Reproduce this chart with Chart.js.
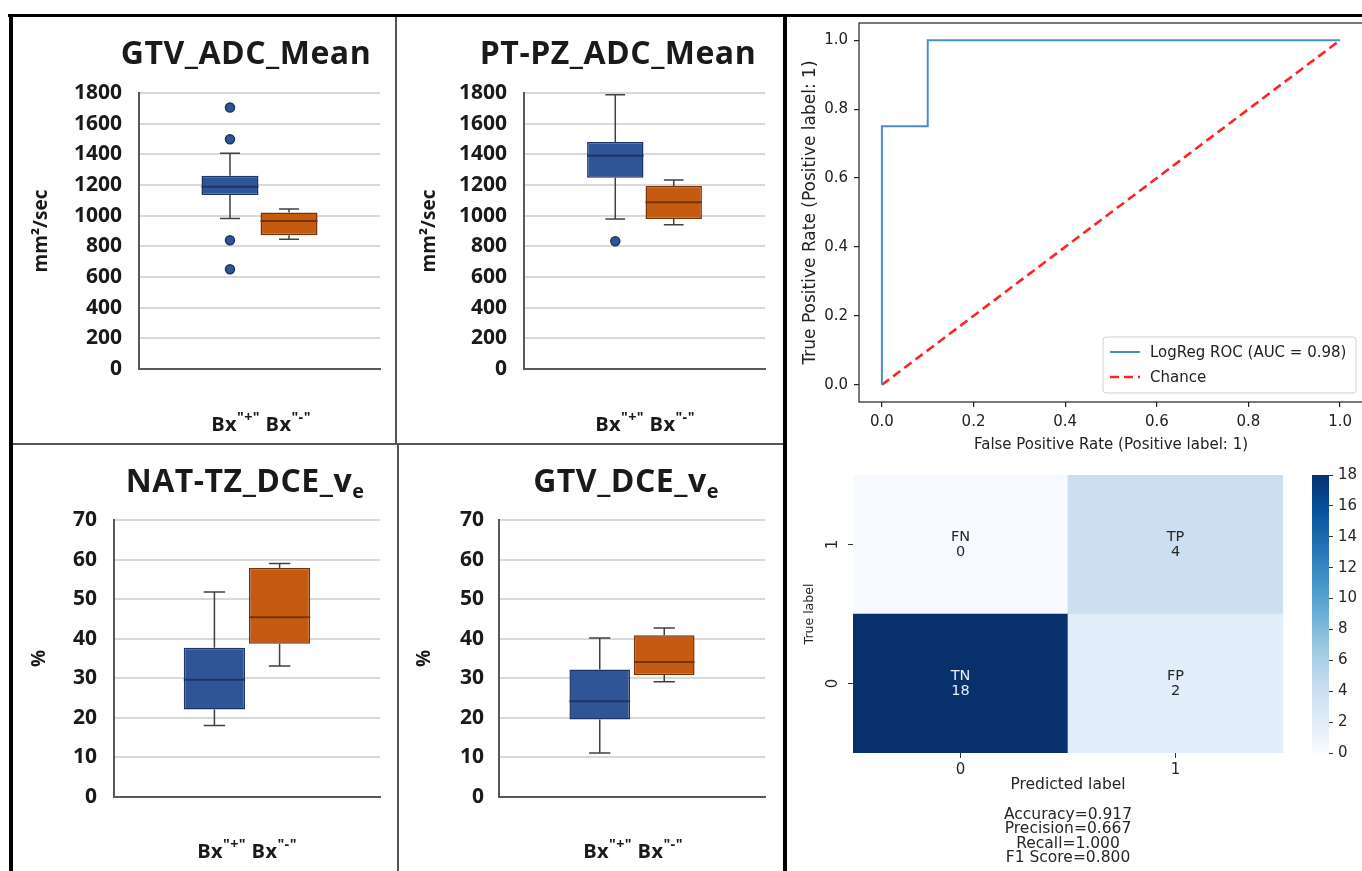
<!DOCTYPE html>
<html lang="en">
<head>
<meta charset="UTF-8">
<title>ADC / DCE box plots, ROC curve and confusion matrix</title>
<script src="https://cdn.jsdelivr.net/npm/chart.js"></script>
<style>
  html, body { margin: 0; padding: 0; width: 1362px; height: 871px; overflow: hidden; background: #fff; }
  canvas { position: absolute; }
  .rule { position: absolute; z-index: 5; }
  .ttl { position: absolute; width: 400px; text-align: center; font: 700 32px 'Open Sans', sans-serif;
         letter-spacing: 0.5px; color: #1a1a1a; line-height: 36px; white-space: nowrap; }
  .ttl sub { font-size: 0.62em; vertical-align: -0.3em; }
  .xl { position: absolute; width: 200px; text-align: center; font: 700 20px 'Open Sans', sans-serif;
        letter-spacing: 0.4px; color: #1a1a1a; line-height: 24px; white-space: nowrap; }
  .xl sup { font-size: 0.72em; vertical-align: 0.6em; }
</style>
</head>
<body>
  <!-- box plot panels -->
  <canvas id="gtvAdc" width="372" height="370" style="left:14px;top:70px"></canvas>
  <canvas id="ptpzAdc" width="373" height="370" style="left:398px;top:70px"></canvas>
  <canvas id="nattzVe" width="372" height="371" style="left:14px;top:497px"></canvas>
  <canvas id="gtvVe" width="371" height="371" style="left:400px;top:497px"></canvas>
  <!-- right column -->
  <canvas id="roc" width="581" height="443" style="left:787px;top:17px"></canvas>
  <canvas id="cm" width="511" height="409" style="left:789px;top:462px"></canvas>
  <canvas id="cbar" width="62" height="409" style="left:1300px;top:462px"></canvas>

  <div class="ttl" style="left:46px;top:34px">GTV_ADC_Mean</div>
  <div class="ttl" style="left:418px;top:34px">PT-PZ_ADC_Mean</div>
  <div class="ttl" style="left:45px;top:462px">NAT-TZ_DCE_v<sub>e</sub></div>
  <div class="ttl" style="left:426px;top:462px">GTV_DCE_v<sub>e</sub></div>

  <div class="xl" style="left:161px;top:405px">Bx<sup>"+"</sup> Bx<sup>"-"</sup></div>
  <div class="xl" style="left:545px;top:405px">Bx<sup>"+"</sup> Bx<sup>"-"</sup></div>
  <div class="xl" style="left:147px;top:832px">Bx<sup>"+"</sup> Bx<sup>"-"</sup></div>
  <div class="xl" style="left:533px;top:832px">Bx<sup>"+"</sup> Bx<sup>"-"</sup></div>

  <!-- panel frame -->
  <div class="rule" style="left:8px;top:14px;width:1354px;height:3px;background:#000"></div>
  <div class="rule" style="left:9px;top:14px;width:4px;height:857px;background:#000"></div>
  <div class="rule" style="left:783px;top:14px;width:4px;height:857px;background:#000"></div>
  <div class="rule" style="left:13px;top:443px;width:770px;height:2px;background:#555"></div>
  <div class="rule" style="left:395px;top:17px;width:2px;height:426px;background:#555"></div>
  <div class="rule" style="left:397px;top:445px;width:2px;height:426px;background:#555"></div>

<script>
// box plot stats: [lower whisker, Q1, median, Q3, upper whisker]
const gtvAdcPos = [982, 1134, 1188, 1260, 1407];
const gtvAdcPosOut = [1706, 1498, 840, 650];
const gtvAdcNeg = [846, 872, 965, 1021, 1043];
const gtvAdcNegOut = [];

const ptpzAdcPos = [978, 1247, 1390, 1481, 1789];
const ptpzAdcPosOut = [833];
const ptpzAdcNeg = [941, 978, 1087, 1193, 1232];
const ptpzAdcNegOut = [];

const nattzVePos = [18.1, 22.1, 29.6, 37.7, 51.8];
const nattzVeNeg = [33.1, 38.7, 45.4, 57.9, 59.0];

const gtvVePos = [11.1, 19.6, 24.2, 32.2, 40.2];
const gtvVeNeg = [29.1, 30.8, 34.1, 40.9, 42.7];

// ROC
const rocFpr = [0, 0, 0.1, 0.1, 1];
const rocTpr = [0, 0.75, 0.75, 1, 1];
const chanceX = [0, 1];
const chanceY = [0, 1];
const rocTicks = [0, 0.2, 0.4, 0.6, 0.8, 1.0];

// confusion matrix (rows = true label)
const cmLabels = ['0', '1'];
const cmRow0 = [18, 2];
const cmRow1 = [0, 4];
const cmTags0 = ['TN', 'FP'];
const cmTags1 = ['FN', 'TP'];
const cmStats = ['Accuracy=0.917', 'Precision=0.667', 'Recall=1.000', 'F1 Score=0.800'];
const cbTicks = [0, 2, 4, 6, 8, 10, 12, 14, 16, 18];
const cbMax = 18;

const BLUE = '#2f5597', BLUE_EDGE = '#1c3563';
const ORANGE = '#c55a11', ORANGE_EDGE = '#74340a';
const INK = '#1a1a1a';
const MPL = "'DejaVu Sans', sans-serif";

// matplotlib "Blues"
const BLUES = [[0, '#f7fbff'], [0.125, '#deebf7'], [0.25, '#c6dbef'], [0.375, '#9ecae1'], [0.5, '#6baed6'],
               [0.625, '#4292c6'], [0.75, '#2171b5'], [0.875, '#08519c'], [1, '#08306b']];
function hex(c) { return [1, 3, 5].map(i => parseInt(c.substr(i, 2), 16)); }
function blues(v) {
  const t = Math.max(0, Math.min(1, v / cbMax));
  for (let i = 1; i < BLUES.length; i++) {
    if (t <= BLUES[i][0]) {
      const [t0, c0] = BLUES[i - 1], [t1, c1] = BLUES[i];
      const f = (t - t0) / (t1 - t0), a = hex(c0), b = hex(c1);
      return 'rgb(' + a.map((x, k) => Math.round(x + (b[k] - x) * f)).join(',') + ')';
    }
  }
  return BLUES[BLUES.length - 1][1];
}

// fixed axis size, and no extra room for labels that overhang the plot
function fixY(w) { return s => { s.width = w; s.paddingTop = 0; s.paddingBottom = 0; }; }
function fixX(h) { return s => { s.height = h; s.paddingLeft = 0; s.paddingRight = 0; }; }

// whiskers, medians and outliers on top of the floating Q1-Q3 bars
const boxPlugin = {
  id: 'boxWhiskers',
  beforeDatasetsDraw(chart) {
    const ctx = chart.ctx, y = chart.scales.y;
    chart.data.datasets.forEach((ds, i) => {
      const bar = chart.getDatasetMeta(i).data[0];
      const [lo, q1, , q3, hi] = ds.stats;
      const cap = bar.width * 0.35;
      ctx.save();
      ctx.strokeStyle = '#404040';
      ctx.lineWidth = 1.5;
      ctx.beginPath();
      ctx.moveTo(bar.x, y.getPixelForValue(hi)); ctx.lineTo(bar.x, y.getPixelForValue(q3));
      ctx.moveTo(bar.x, y.getPixelForValue(q1)); ctx.lineTo(bar.x, y.getPixelForValue(lo));
      ctx.moveTo(bar.x - cap / 2, y.getPixelForValue(hi)); ctx.lineTo(bar.x + cap / 2, y.getPixelForValue(hi));
      ctx.moveTo(bar.x - cap / 2, y.getPixelForValue(lo)); ctx.lineTo(bar.x + cap / 2, y.getPixelForValue(lo));
      ctx.stroke();
      ctx.restore();
    });
  },
  afterDatasetsDraw(chart) {
    const ctx = chart.ctx, y = chart.scales.y;
    chart.data.datasets.forEach((ds, i) => {
      const bar = chart.getDatasetMeta(i).data[0];
      const my = y.getPixelForValue(ds.stats[2]);
      ctx.save();
      ctx.strokeStyle = ds.borderColor;
      ctx.lineWidth = 2;
      ctx.beginPath();
      ctx.moveTo(bar.x - bar.width / 2, my); ctx.lineTo(bar.x + bar.width / 2, my);
      ctx.stroke();
      ds.outliers.forEach(v => {
        ctx.beginPath();
        ctx.arc(bar.x, y.getPixelForValue(v), 4.5, 0, Math.PI * 2);
        ctx.fillStyle = ds.backgroundColor;
        ctx.fill();
        ctx.lineWidth = 1.5;
        ctx.stroke();
      });
      ctx.restore();
    });
  }
};

function boxChart(id, o) {
  const series = (stats, out, fill, edge) => ({
    data: [[stats[1], stats[3]]], stats: stats, outliers: out,
    backgroundColor: fill, borderColor: edge, borderWidth: 1.5, borderSkipped: false,
    categoryPercentage: o.cat, barPercentage: o.bar
  });
  return new Chart(document.getElementById(id), {
    type: 'bar',
    data: {
      labels: [''],
      datasets: [series(o.pos, o.posOut, BLUE, BLUE_EDGE), series(o.neg, o.negOut, ORANGE, ORANGE_EDGE)]
    },
    options: {
      responsive: false,
      animation: false,
      layout: { autoPadding: false, padding: { top: 23, right: 6, left: 0, bottom: 0 } },
      plugins: { legend: { display: false }, tooltip: { enabled: false } },
      scales: {
        x: {
          grid: { display: false },
          ticks: { display: false },
          border: { color: '#595959', width: 2 },
          afterFit: fixX(71)
        },
        y: {
          min: 0, max: o.max,
          ticks: { stepSize: o.step, padding: o.tickPad, color: INK, callback: v => String(v),
                   font: { family: "'Open Sans', sans-serif", weight: 'bold', size: 21 } },
          grid: { color: '#d9d9d9', lineWidth: 2, drawTicks: false },
          border: { color: '#595959', width: 2 },
          title: { display: true, text: o.yTitle, color: INK,
                   font: { family: "'Open Sans', sans-serif", weight: 'bold', size: 19 },
                   padding: { top: o.titlePad, bottom: 0 } },
          afterFit: fixY(o.yw)
        }
      }
    },
    plugins: [boxPlugin]
  });
}

boxChart('gtvAdc', { pos: gtvAdcPos, posOut: gtvAdcPosOut, neg: gtvAdcNeg, negOut: gtvAdcNegOut,
  max: 1800, step: 200, yTitle: 'mm²/sec', yw: 125, tickPad: 17, titlePad: 16.6, cat: 0.49, bar: 0.965 });
boxChart('ptpzAdc', { pos: ptpzAdcPos, posOut: ptpzAdcPosOut, neg: ptpzAdcNeg, negOut: ptpzAdcNegOut,
  max: 1800, step: 200, yTitle: 'mm²/sec', yw: 126, tickPad: 17, titlePad: 20, cat: 0.485, bar: 0.965 });
boxChart('nattzVe', { pos: nattzVePos, posOut: [], neg: nattzVeNeg, negOut: [],
  max: 70, step: 10, yTitle: '%', yw: 100, tickPad: 17, titlePad: 14.6, cat: 0.49, bar: 0.94 });
boxChart('gtvVe', { pos: gtvVePos, posOut: [], neg: gtvVeNeg, negOut: [],
  max: 70, step: 10, yTitle: '%', yw: 99, tickPad: 15, titlePad: 13.6, cat: 0.485, bar: 0.94 });

// ROC curve
const spines = {
  id: 'spines',
  afterDraw(chart) {
    const a = chart.chartArea, ctx = chart.ctx;
    ctx.save();
    ctx.strokeStyle = '#222';
    ctx.lineWidth = 1.2;
    ctx.strokeRect(a.left, a.top, a.right - a.left, a.bottom - a.top);
    ctx.restore();
  }
};
const rocLegend = {
  id: 'rocLegend',
  afterDraw(chart) {
    const a = chart.chartArea, ctx = chart.ctx;
    const w = 253, h = 56, right = a.right - 7, bottom = a.bottom - 9;
    const left = right - w, top = bottom - h;
    ctx.save();
    ctx.fillStyle = 'rgba(255,255,255,0.85)';
    ctx.strokeStyle = '#d0d0d0';
    ctx.lineWidth = 1;
    ctx.beginPath();
    ctx.roundRect(left, top, w, h, 3);
    ctx.fill();
    ctx.stroke();
    ctx.font = '15px ' + MPL;
    ctx.textBaseline = 'middle';
    chart.data.datasets.forEach((ds, i) => {
      const yy = top + 15 + i * 25;
      ctx.strokeStyle = ds.borderColor;
      ctx.lineWidth = ds.borderWidth;
      ctx.setLineDash(ds.borderDash || []);
      ctx.beginPath();
      ctx.moveTo(left + 7, yy); ctx.lineTo(left + 37, yy);
      ctx.stroke();
      ctx.setLineDash([]);
      ctx.fillStyle = '#222';
      ctx.fillText(ds.label, left + 47, yy + 1);
    });
    ctx.restore();
  }
};
const mplTicks = { color: '#222', font: { family: MPL, size: 15 }, padding: 6 };
const mplGrid = { drawOnChartArea: false, tickLength: 5, color: '#222', lineWidth: 1.2 };
new Chart(document.getElementById('roc'), {
  type: 'line',
  data: {
    datasets: [
      { label: 'LogReg ROC (AUC = 0.98)', data: rocFpr.map((x, i) => ({ x: x, y: rocTpr[i] })),
        borderColor: '#4a8ec9', borderWidth: 2, pointRadius: 0, tension: 0 },
      { label: 'Chance', data: chanceX.map((x, i) => ({ x: x, y: chanceY[i] })),
        borderColor: '#ff2424', borderWidth: 2.6, borderDash: [9, 5], pointRadius: 0 }
    ]
  },
  options: {
    responsive: false,
    animation: false,
    layout: { autoPadding: false, padding: { top: 6, right: 5, left: 0, bottom: 0 } },
    plugins: { legend: { display: false }, tooltip: { enabled: false } },
    scales: {
      x: {
        type: 'linear', min: -0.05, max: 1.05,
        afterBuildTicks: s => { s.ticks = rocTicks.map(v => ({ value: v })); },
        ticks: Object.assign({ callback: v => v.toFixed(1) }, mplTicks),
        grid: mplGrid, border: { display: false },
        title: { display: true, text: 'False Positive Rate (Positive label: 1)', color: '#222',
                 font: { family: MPL, size: 15 }, padding: { top: 0, bottom: 6 } },
        afterFit: fixX(58)
      },
      y: {
        type: 'linear', min: -0.05, max: 1.05,
        afterBuildTicks: s => { s.ticks = rocTicks.map(v => ({ value: v })); },
        ticks: Object.assign({ callback: v => v.toFixed(1) }, mplTicks),
        grid: mplGrid, border: { display: false },
        title: { display: true, text: 'True Positive Rate (Positive label: 1)', color: '#222',
                 font: { family: MPL, size: 17 }, padding: { top: 13, bottom: 0 } },
        afterFit: fixY(72)
      }
    }
  },
  plugins: [spines, rocLegend]
});

// confusion matrix heat map: stacked unit cells, colour from the counts
const cmText = {
  id: 'cmText',
  afterDatasetsDraw(chart) {
    const ctx = chart.ctx;
    ctx.save();
    ctx.font = '14.5px ' + MPL;
    ctx.textAlign = 'center';
    ctx.textBaseline = 'middle';
    chart.data.datasets.forEach((ds, d) => {
      chart.getDatasetMeta(d).data.forEach((el, i) => {
        const cy = (el.y + el.base) / 2;
        ctx.fillStyle = ds.counts[i] > cbMax / 2 ? '#e6edf5' : '#262626';
        ctx.fillText(ds.tags[i], el.x, cy - 7.5);
        ctx.fillText(String(ds.counts[i]), el.x, cy + 8);
      });
    });
    ctx.restore();
  },
  afterDraw(chart) {
    const ctx = chart.ctx, a = chart.chartArea, y = chart.scales.y;
    ctx.save();
    ctx.fillStyle = '#262626';
    ctx.strokeStyle = '#333';
    ctx.lineWidth = 1;
    ctx.font = '15px ' + MPL;
    ctx.textAlign = 'center';
    ctx.textBaseline = 'middle';
    cmLabels.forEach((lab, i) => {
      const py = y.getPixelForValue(i + 0.5);
      ctx.beginPath(); ctx.moveTo(a.left - 5, py); ctx.lineTo(a.left, py); ctx.stroke();
      ctx.save(); ctx.translate(a.left - 20, py); ctx.rotate(-Math.PI / 2); ctx.fillText(lab, 0, 0); ctx.restore();
    });
    const cx = (a.left + a.right) / 2;
    ctx.font = '15.5px ' + MPL;
    cmStats.forEach((s, i) => ctx.fillText(s, cx, a.bottom + 62 + i * 14.4));
    ctx.restore();
  }
};
new Chart(document.getElementById('cm'), {
  type: 'bar',
  data: {
    labels: cmLabels,
    datasets: [
      { data: cmRow0.map(() => 1), counts: cmRow0, tags: cmTags0, backgroundColor: cmRow0.map(blues) },
      { data: cmRow1.map(() => 1), counts: cmRow1, tags: cmTags1, backgroundColor: cmRow1.map(blues) }
    ]
  },
  options: {
    responsive: false,
    animation: false,
    layout: { autoPadding: false, padding: { top: 13, right: 17, left: 0, bottom: 0 } },
    datasets: { bar: { barPercentage: 1, categoryPercentage: 1, borderWidth: 0 } },
    plugins: { legend: { display: false }, tooltip: { enabled: false } },
    scales: {
      x: {
        stacked: true,
        grid: { offset: false, drawOnChartArea: false, tickLength: 5, color: '#333' },
        border: { display: false },
        ticks: { padding: 3, color: '#262626', font: { family: MPL, size: 15 } },
        title: { display: true, text: 'Predicted label', color: '#262626',
                 font: { family: MPL, size: 15.5 }, padding: { top: 0, bottom: 77 } },
        afterFit: fixX(118)
      },
      y: {
        stacked: true, min: 0, max: 2,
        ticks: { display: false },
        grid: { display: false },
        border: { display: false },
        title: { display: true, text: 'True label', color: '#262626',
                 font: { family: MPL, size: 12.5 }, padding: { top: 13.5, bottom: 0 } },
        afterFit: fixY(64)
      }
    }
  },
  plugins: [cmText]
});

// colour bar
new Chart(document.getElementById('cbar'), {
  type: 'bar',
  data: {
    labels: [''],
    datasets: [{
      data: [[0, cbMax]],
      backgroundColor: c => {
        const area = c.chart.chartArea;
        if (!area) return BLUES[0][1];
        const g = c.chart.ctx.createLinearGradient(0, area.bottom, 0, area.top);
        BLUES.forEach(([t, col]) => g.addColorStop(t, col));
        return g;
      }
    }]
  },
  options: {
    responsive: false,
    animation: false,
    layout: { autoPadding: false, padding: { top: 13, right: 0, left: 12, bottom: 118 } },
    datasets: { bar: { barPercentage: 1, categoryPercentage: 1, borderWidth: 0 } },
    plugins: { legend: { display: false }, tooltip: { enabled: false } },
    scales: {
      x: { display: false },
      y: {
        position: 'right', min: 0, max: cbMax,
        afterBuildTicks: s => { s.ticks = cbTicks.map(v => ({ value: v })); },
        ticks: { padding: 5, color: '#262626', font: { family: MPL, size: 15 } },
        grid: { drawOnChartArea: false, tickLength: 4, color: '#333' },
        border: { display: false },
        afterFit: fixY(33)
      }
    }
  }
});
</script>
</body>
</html>
